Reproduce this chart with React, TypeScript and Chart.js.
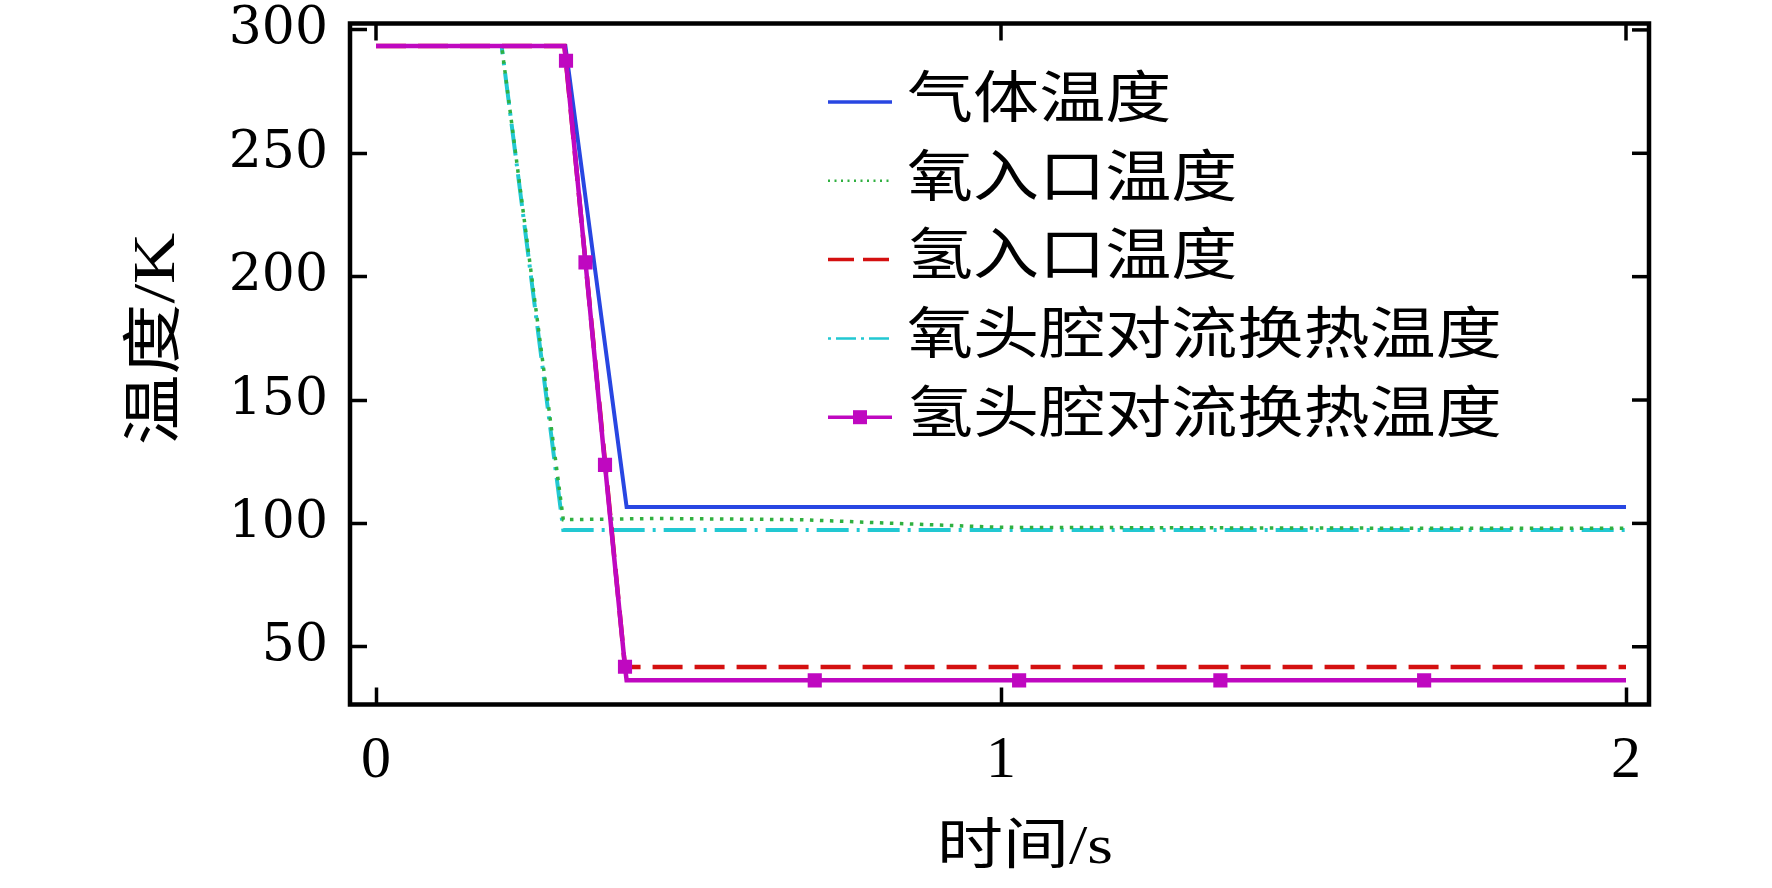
import React, { useEffect, useRef } from 'react';
import { Chart, registerables } from 'chart.js';

Chart.register(...registerables);

// ---------- data ----------
const seriesLabels = ['气体温度', '氧入口温度', '氢入口温度', '氧头腔对流换热温度', '氢头腔对流换热温度'];

const gasTime = [0, 0.303, 0.401, 2.0];
const gasTemp = [293.5, 293.5, 106.6, 106.6];

const o2InletTime = [0, 0.201, 0.2997, 0.45, 0.68, 0.85, 1.0, 1.5, 2.0];
const o2InletTemp = [293.5, 293.5, 101.5, 102.0, 101.5, 99.8, 98.4, 98.1, 98.0];

const h2InletTime = [0, 0.3015, 0.3984, 2.0];
const h2InletTemp = [293.5, 293.5, 41.8, 41.8];

const o2HeadTime = [0, 0.201, 0.2997, 2.0];
const o2HeadTemp = [293.5, 293.5, 97.3, 97.3];

const h2HeadTime = [0, 0.3015, 0.304, 0.3352, 0.3664, 0.3984, 0.401, 0.702, 1.029, 1.351, 1.677, 2.0];
const h2HeadTemp = [293.5, 293.5, 287.5, 205.8, 123.7, 41.9, 36.4, 36.4, 36.4, 36.4, 36.4, 36.4];
const h2HeadMarker = [0, 0, 1, 1, 1, 1, 0, 1, 1, 1, 1, 0];

const xTickValues = [0, 1, 2];
const yTickValues = [50, 100, 150, 200, 250, 300];
const xRange = [-0.0416, 2.0368];
const yRange = [26.6, 302.6];

const xTitle = '时间/s';
const yTitle = '温度/K';

// ---------- styles ----------
const colors = ['#2846e2', '#30b040', '#d41010', '#22c8d2', '#bf08c0'];
const widths = [4, 3.5, 4.5, 4, 4.5];
const dashes: number[][] = [[], [3.5, 6.5], [30, 12], [32, 8, 3, 8], []];
const legendDashes: number[][] = [[], [2, 4.5], [26, 9], [3, 5, 20, 5], []];
const orders = [4, 2, 1, 3, 0];

const TICK = 17;
const SERIF = "'Liberation Serif', 'Noto Sans CJK SC'";

function zip(xs: number[], ys: number[]) {
  return xs.map((x, i) => ({ x, y: ys[i] }));
}

const decorPlugin = {
  id: 'decor',
  afterDraw(chart: any) {
    const { ctx, chartArea: a, scales } = chart;
    ctx.save();
    ctx.setLineDash([]);
    ctx.strokeStyle = '#000';
    ctx.lineCap = 'butt';
    // mirrored ticks on top / right
    ctx.lineWidth = 3.5;
    scales.x.ticks.forEach((t: any) => {
      const px = scales.x.getPixelForValue(t.value);
      ctx.beginPath();
      ctx.moveTo(px, a.top);
      ctx.lineTo(px, a.top + TICK);
      ctx.stroke();
    });
    scales.y.ticks.forEach((t: any) => {
      const py = scales.y.getPixelForValue(t.value);
      ctx.beginPath();
      ctx.moveTo(a.right, py);
      ctx.lineTo(a.right - TICK, py);
      ctx.stroke();
    });
    // frame
    ctx.lineWidth = 4.5;
    ctx.strokeRect(a.left, a.top, a.right - a.left, a.bottom - a.top);

    // legend
    const ds = chart.data.datasets;
    const x0 = 828, x1 = 892, tx = 907, y0 = 102, dy = 78.8;
    ds.forEach((d: any, i: number) => {
      const y = y0 + i * dy;
      ctx.save();
      ctx.strokeStyle = d.borderColor;
      ctx.lineWidth = i === 1 || i === 3 ? 2.5 : 3.5;
      ctx.setLineDash(legendDashes[i]);
      ctx.beginPath();
      ctx.moveTo(x0, y);
      ctx.lineTo(x1, y);
      ctx.stroke();
      ctx.setLineDash([]);
      if (i === 4) {
        ctx.fillStyle = d.borderColor;
        ctx.fillRect((x0 + x1) / 2 - 7, y - 7, 14, 14);
      }
      ctx.fillStyle = '#000';
      ctx.font = `56px ${SERIF}`;
      ctx.textBaseline = 'middle';
      ctx.textAlign = 'left';
      ctx.translate(tx, y);
      ctx.scale(1.18, 1);
      ctx.fillText(d.label, 0, 0);
      ctx.restore();
    });

    // axis titles
    ctx.fillStyle = '#000';
    ctx.textBaseline = 'middle';
    ctx.textAlign = 'center';
    ctx.save();
    ctx.font = `55px ${SERIF}`;
    ctx.translate(1025, 849);
    ctx.scale(1.2, 1);
    ctx.fillText(xTitle, 0, 0);
    ctx.restore();

    ctx.save();
    ctx.font = `60px ${SERIF}`;
    ctx.translate(158, 339);
    ctx.rotate(-Math.PI / 2);
    ctx.scale(1.18, 1);
    ctx.fillText(yTitle, 0, 0);
    ctx.restore();

    ctx.restore();
  },
};

export default function App() {
  const ref = useRef<HTMLCanvasElement>(null);

  useEffect(() => {
    document.body.style.margin = '0';
    const series = [
      zip(gasTime, gasTemp),
      zip(o2InletTime, o2InletTemp),
      zip(h2InletTime, h2InletTemp),
      zip(o2HeadTime, o2HeadTemp),
      zip(h2HeadTime, h2HeadTemp),
    ];
    const datasets = series.map((data, i) => ({
      label: seriesLabels[i],
      data,
      borderColor: colors[i],
      backgroundColor: colors[i],
      borderWidth: widths[i],
      borderDash: dashes[i],
      borderCapStyle: 'butt' as const,
      borderJoinStyle: 'miter' as const,
      tension: 0,
      fill: false,
      order: orders[i],
      pointStyle: 'rect' as const,
      pointRadius: i === 4 ? (c: any) => (h2HeadMarker[c.dataIndex] ? 10 : 0) : 0,
      pointHoverRadius: 0,
      pointBorderWidth: 0,
      pointBackgroundColor: colors[i],
    }));

    const chart = new Chart(ref.current as HTMLCanvasElement, {
      type: 'line',
      data: { datasets },
      plugins: [decorPlugin],
      options: {
        responsive: false,
        animation: false,
        events: [],
        layout: { padding: { left: 0, top: 23.5, right: 123, bottom: 0 } },
        plugins: { legend: { display: false }, tooltip: { enabled: false }, title: { display: false } },
        scales: {
          x: {
            type: 'linear',
            min: xRange[0],
            max: xRange[1],
            border: { display: false },
            grid: {
              display: true,
              drawOnChartArea: false,
              drawTicks: true,
              tickLength: -TICK,
              tickWidth: 3.5,
              tickColor: '#000',
            },
            ticks: { color: '#000', font: { family: "'Liberation Serif'", size: 60 }, padding: 38, maxRotation: 0, autoSkip: false },
            afterBuildTicks: (s: any) => {
              s.ticks = xTickValues.map((v) => ({ value: v }));
            },
            afterFit: (s: any) => {
              s.height = 183.5;
              s.paddingLeft = 0;
              s.paddingRight = 0;
            },
            title: { display: false },
          },
          y: {
            type: 'linear',
            min: yRange[0],
            max: yRange[1],
            border: { display: false },
            grid: {
              display: true,
              drawOnChartArea: false,
              drawTicks: true,
              tickLength: -TICK,
              tickWidth: 3.5,
              tickColor: '#000',
            },
            ticks: { color: '#000', font: { family: "'DejaVu Serif'", size: 52 }, padding: 39, autoSkip: false },
            afterBuildTicks: (s: any) => {
              s.ticks = yTickValues.map((v) => ({ value: v }));
            },
            afterFit: (s: any) => {
              s.width = 350;
              s.paddingTop = 0;
              s.paddingBottom = 0;
            },
            title: { display: false },
          },
        },
      },
    });
    return () => chart.destroy();
  }, []);

  return (
    <div style={{ width: 1772, height: 888, background: '#fff', overflow: 'hidden' }}>
      <canvas ref={ref} width={1772} height={888} style={{ width: '1772px', height: '888px', display: 'block' }} />
    </div>
  );
}
